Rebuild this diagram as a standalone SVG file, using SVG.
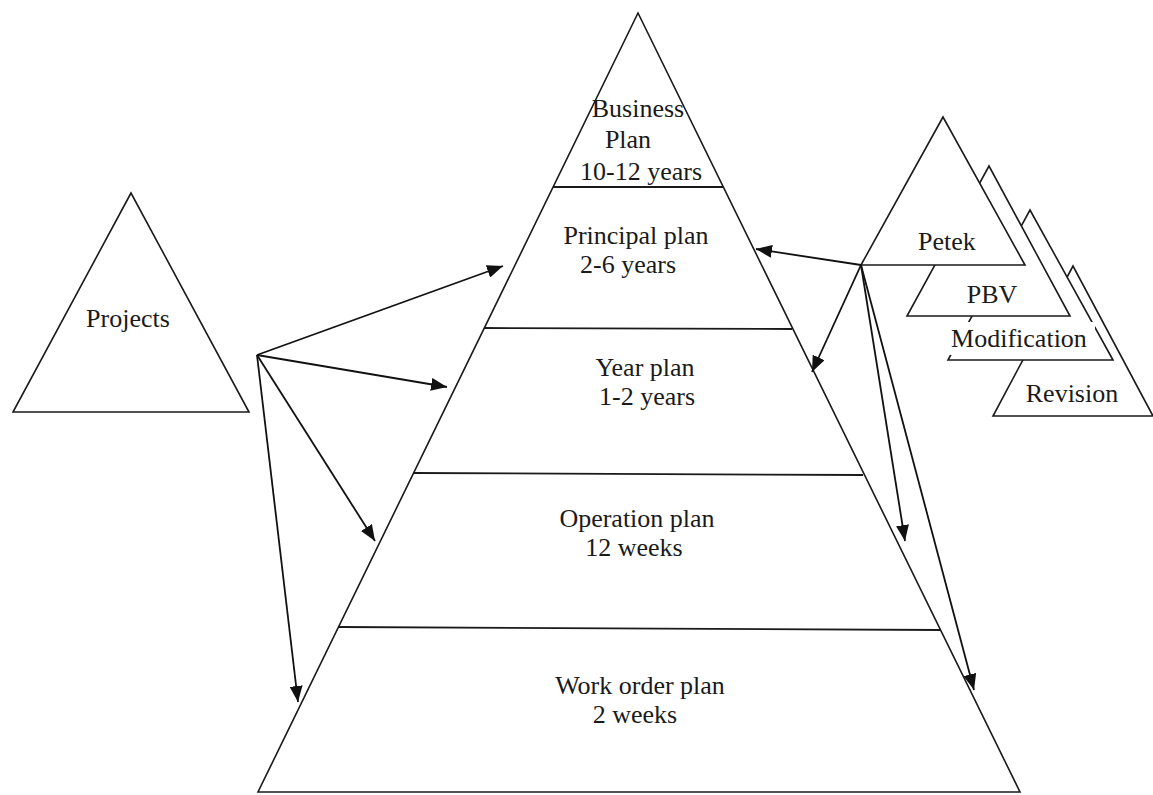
<svg xmlns="http://www.w3.org/2000/svg" width="1153" height="795" viewBox="0 0 1153 795">
  <defs>
    <style>
      .shape { fill: #ffffff; stroke: #1a1a1a; stroke-width: 1.6; stroke-linejoin: miter; }
      .sep { stroke: #1a1a1a; stroke-width: 1.8; fill: none; }
      .conn { stroke: #111111; stroke-width: 1.8; fill: none; marker-end: url(#head); }
      .lbl { font-family: "Liberation Serif", "Times New Roman", serif; font-size: 26px; fill: #1a1a1a; text-anchor: middle; }
    </style>
    <marker id="head" markerUnits="userSpaceOnUse" markerWidth="17" markerHeight="13" refX="16" refY="6.5" orient="auto">
      <path d="M0,0 L16,6.5 L0,13 z" fill="#111111"/>
    </marker>
  </defs>

  <rect width="1153" height="795" fill="#ffffff"/>

  <!-- Main planning pyramid -->
  <g id="pyramid">
    <polygon class="shape" points="638,13 258,792 1020,792"/>
    <line class="sep" x1="553" y1="187" x2="723" y2="187"/>
    <line class="sep" x1="484" y1="328" x2="792" y2="329"/>
    <line class="sep" x1="414" y1="473" x2="863" y2="475"/>
    <line class="sep" x1="339" y1="627" x2="940" y2="630"/>
  </g>

  <g id="level-business">
    <text class="lbl" x="638" y="117">Business</text>
    <text class="lbl" x="628" y="148">Plan</text>
    <text class="lbl" x="641" y="180">10-12 years</text>
  </g>
  <g id="level-principal">
    <text class="lbl" x="636" y="244">Principal plan</text>
    <text class="lbl" x="628" y="273">2-6 years</text>
  </g>
  <g id="level-year">
    <text class="lbl" x="645" y="376">Year plan</text>
    <text class="lbl" x="647" y="405">1-2 years</text>
  </g>
  <g id="level-operation">
    <text class="lbl" x="637" y="527">Operation plan</text>
    <text class="lbl" x="634" y="556">12 weeks</text>
  </g>
  <g id="level-workorder">
    <text class="lbl" x="640" y="694">Work order plan</text>
    <text class="lbl" x="635" y="723">2 weeks</text>
  </g>

  <!-- Projects -->
  <g id="projects">
    <polygon class="shape" points="131,193 13,412 249,412"/>
    <text class="lbl" x="128" y="327">Projects</text>
  </g>

  <!-- Stack of input triangles, back to front -->
  <g id="revision">
    <polygon class="shape" points="1073,266 993,416 1153,416"/>
    <text class="lbl" x="1072" y="402">Revision</text>
  </g>
  <g id="modification">
    <polygon class="shape" points="1030,210 948,360 1113,360"/>
    <rect x="945" y="322" width="150" height="33" fill="#ffffff"/>
    <text class="lbl" x="1019" y="347">Modification</text>
  </g>
  <g id="pbv">
    <polygon class="shape" points="989,166 907,316 1070,316"/>
    <text class="lbl" x="992" y="303">PBV</text>
  </g>
  <g id="petek">
    <polygon class="shape" points="943,117 861,265 1025,265"/>
    <text class="lbl" x="947" y="250">Petek</text>
  </g>

  <!-- Connectors -->
  <g id="connectors">
    <line class="conn" x1="257" y1="355" x2="503" y2="266"/>
    <line class="conn" x1="257" y1="355" x2="447" y2="387"/>
    <line class="conn" x1="257" y1="355" x2="375" y2="541"/>
    <line class="conn" x1="257" y1="355" x2="298" y2="702"/>
    <line class="conn" x1="861" y1="265" x2="756" y2="249"/>
    <line class="conn" x1="861" y1="265" x2="812" y2="372"/>
    <line class="conn" x1="861" y1="265" x2="905" y2="541"/>
    <line class="conn" x1="861" y1="265" x2="974" y2="690"/>
  </g>
</svg>
